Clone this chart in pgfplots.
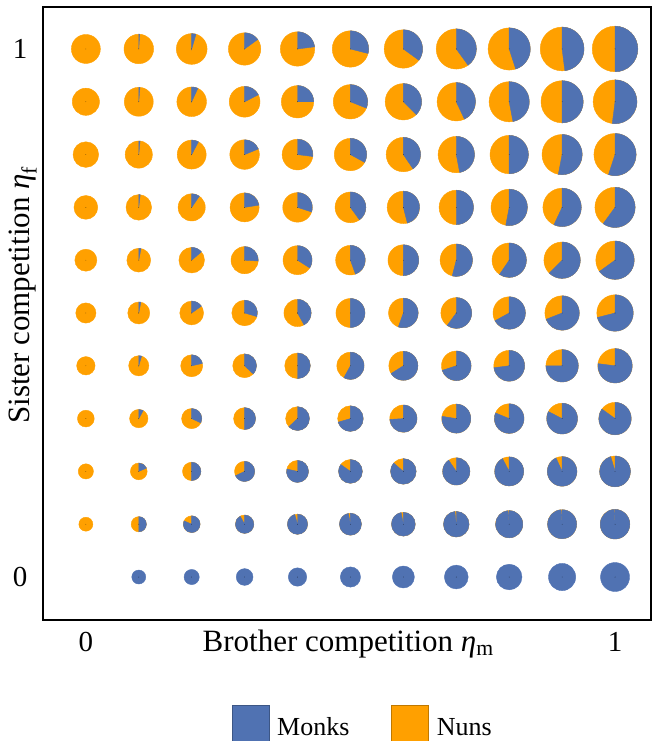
\documentclass[border=0pt]{standalone}
\usepackage{fontspec}
\setmainfont{Liberation Serif}
\usepackage{pgfplots}
\usepackage{pgfplotstable}
\pgfplotsset{compat=1.18}
\definecolor{monks}{RGB}{80,114,178}
\definecolor{nuns}{RGB}{255,160,0}
% x = brother competition, y = sister competition, r = pie radius (pt), f = share of monks
\pgfplotstableread{
x y r f
0.1 0.0 7.0 1
0.2 0.0 7.6 1
0.3 0.0 8.4 1
0.4 0.0 9.2 1
0.5 0.0 10.1 1
0.6 0.0 11.0 1
0.7 0.0 11.9 1
0.8 0.0 12.8 1
0.9 0.0 13.6 1
1.0 0.0 14.5 1
0.0 0.1 7.0 0
0.1 0.1 7.6 0.5
0.2 0.1 8.4 0.815
0.3 0.1 9.2 0.92
0.4 0.1 10.1 0.955
0.5 0.1 11.0 0.97
0.6 0.1 11.9 0.97
0.7 0.1 12.8 0.982
0.8 0.1 13.6 0.985
0.9 0.1 14.5 0.987
1.0 0.1 14.8 0.99
0.0 0.2 7.6 0
0.1 0.2 8.4 0.185
0.2 0.2 9.2 0.5
0.3 0.2 10.1 0.68
0.4 0.2 11.0 0.785
0.5 0.2 11.9 0.848
0.6 0.2 12.8 0.863
0.7 0.2 13.6 0.905
0.8 0.2 14.5 0.923
0.9 0.2 14.8 0.932
1.0 0.2 15.4 0.955
0.0 0.3 8.4 0
0.1 0.3 9.2 0.08
0.2 0.3 10.1 0.32
0.3 0.3 11.0 0.5
0.4 0.3 11.9 0.63
0.5 0.3 12.8 0.705
0.6 0.3 13.6 0.74
0.7 0.3 14.5 0.775
0.8 0.3 14.8 0.812
0.9 0.3 15.4 0.825
1.0 0.3 16.2 0.85
0.0 0.4 9.2 0
0.1 0.4 10.1 0.045
0.2 0.4 11.0 0.215
0.3 0.4 11.9 0.37
0.4 0.4 12.8 0.5
0.5 0.4 13.6 0.58
0.6 0.4 14.5 0.66
0.7 0.4 14.8 0.70
0.8 0.4 15.4 0.73
0.9 0.4 16.2 0.75
1.0 0.4 17.2 0.77
0.0 0.5 10.1 0
0.1 0.5 11.0 0.03
0.2 0.5 11.9 0.152
0.3 0.5 12.8 0.295
0.4 0.5 13.6 0.42
0.5 0.5 14.5 0.5
0.6 0.5 14.8 0.555
0.7 0.5 15.4 0.60
0.8 0.5 16.2 0.67
0.9 0.5 17.2 0.69
1.0 0.5 18.2 0.71
0.0 0.6 11.0 0
0.1 0.6 11.9 0.03
0.2 0.6 12.8 0.137
0.3 0.6 13.6 0.26
0.4 0.6 14.5 0.34
0.5 0.6 14.8 0.445
0.6 0.6 15.4 0.5
0.7 0.6 16.2 0.54
0.8 0.6 17.2 0.595
0.9 0.6 18.2 0.625
1.0 0.6 19.2 0.65
0.0 0.7 11.9 0
0.1 0.7 12.8 0.018
0.2 0.7 13.6 0.095
0.3 0.7 14.5 0.225
0.4 0.7 14.8 0.30
0.5 0.7 15.4 0.40
0.6 0.7 16.2 0.46
0.7 0.7 17.2 0.5
0.8 0.7 18.2 0.53
0.9 0.7 19.2 0.57
1.0 0.7 20.1 0.60
0.0 0.8 12.8 0
0.1 0.8 13.6 0.015
0.2 0.8 14.5 0.077
0.3 0.8 14.8 0.188
0.4 0.8 15.4 0.27
0.5 0.8 16.2 0.33
0.6 0.8 17.2 0.405
0.7 0.8 18.2 0.47
0.8 0.8 19.2 0.5
0.9 0.8 20.1 0.53
1.0 0.8 21.1 0.55
0.0 0.9 13.6 0
0.1 0.9 14.5 0.013
0.2 0.9 14.8 0.068
0.3 0.9 15.4 0.175
0.4 0.9 16.2 0.25
0.5 0.9 17.2 0.31
0.6 0.9 18.2 0.375
0.7 0.9 19.2 0.43
0.8 0.9 20.1 0.47
0.9 0.9 21.1 0.5
1.0 0.9 21.9 0.52
0.0 1.0 14.5 0
0.1 1.0 14.8 0.01
0.2 1.0 15.4 0.045
0.3 1.0 16.2 0.15
0.4 1.0 17.2 0.23
0.5 1.0 18.2 0.29
0.6 1.0 19.2 0.35
0.7 1.0 20.1 0.40
0.8 1.0 21.1 0.45
0.9 1.0 21.9 0.48
1.0 1.0 22.8 0.5
}\pies
\begin{document}
\begin{tikzpicture}
\path[use as bounding box] (0pt,0pt) rectangle (653pt,741pt);
\begin{axis}[
  at={(43pt,121pt)}, anchor=south west,
  scale only axis, width=608pt, height=613pt,
  xmin=-0.081, xmax=1.068, ymin=-0.0814, ymax=1.0795,
  xtick={0,1}, ytick={0,1},
  major tick length=0pt,
  clip=false,
  axis line style={line width=1.5pt, black},
  /pgf/number format/assume math mode=true,
  ticklabel style={font=\fontsize{29}{34}\selectfont},
  xticklabel style={anchor=base, yshift=-32pt},
  yticklabel style={anchor=center, xshift=-23pt},
  xlabel={Brother competition \textit{η}\textsubscript{m}},
  ylabel={Sister competition \textit{η}\textsubscript{f}},
  label style={font=\fontsize{31}{36}\selectfont},
  xlabel style={at={(axis description cs:0.502,-0.052)}, anchor=base},
  ylabel style={at={(axis description cs:-0.033,0.53)}, anchor=center},
  legend columns=2,
  legend style={at={(axis description cs:0.526,-0.139)}, anchor=north,
    draw=none, fill=none, inner sep=0pt,
    font=\fontsize{26}{30}\selectfont,
    /tikz/every odd column/.append style={column sep=6pt},
    /tikz/every even column/.append style={column sep=40pt}},
]
\addplot[
  scatter, only marks,
  mark=*, mark size=0.01pt, mark options={draw=none, fill=none},
  visualization depends on={\thisrow{r} \as \pieR},
  visualization depends on={\thisrow{f} \as \pieF},
  scatter/@pre marker code/.code={%
    \pgfmathsetmacro{\pieA}{90-360*\pieF}%
    \pgfmathparse{\pieF<0.999 ? 1 : 0}%
    \ifnum\pgfmathresult=1 \fill[nuns] (0pt,0pt) circle[radius=\pieR pt];\fi
    \pgfmathparse{\pieF>0.999 ? 2 : (\pieF>0.0001 ? 1 : 0)}%
    \ifcase\pgfmathresult\relax
    \or \fill[monks] (0pt,0pt) -- (0pt,\pieR pt) arc[start angle=90, end angle=\pieA, radius=\pieR pt] -- cycle;%
    \or \fill[monks] (0pt,0pt) circle[radius=\pieR pt];%
    \fi
  },
  scatter/@post marker code/.code={},
  forget plot,
] table[x=x, y=y] {\pies};
\addlegendimage{legend image code/.code={\draw[draw=monks!75!black, fill=monks] (0pt,-14pt) rectangle (37pt,22pt);}}
\addlegendentry{Monks}
\addlegendimage{legend image code/.code={\draw[draw=nuns!75!black, fill=nuns] (0pt,-14pt) rectangle (37pt,22pt);}}
\addlegendentry{Nuns}
\end{axis}
\end{tikzpicture}
\end{document}
